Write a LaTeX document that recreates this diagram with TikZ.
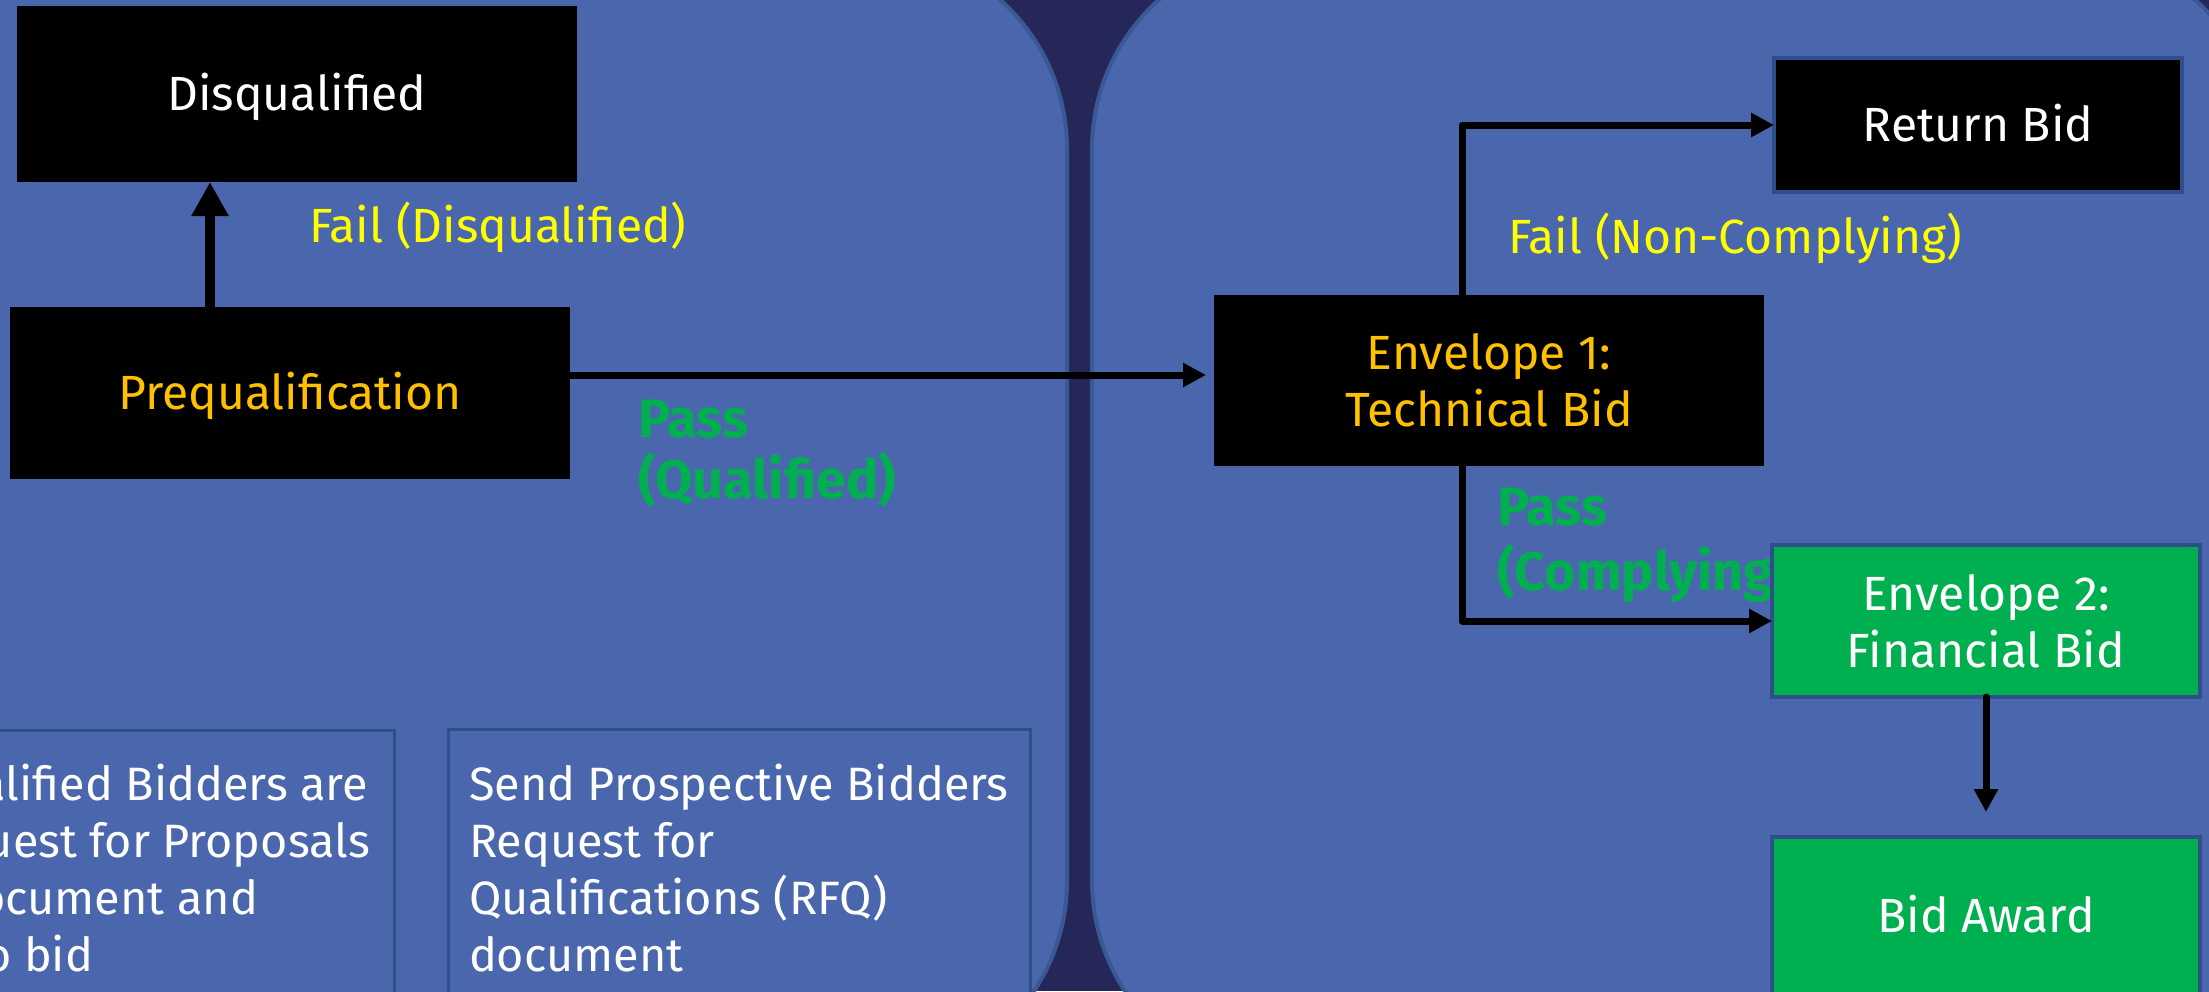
\documentclass[tikz,border=0pt]{standalone}
\usepackage{fontspec}
\setmainfont{Fira Sans}
\usetikzlibrary{arrows.meta,calc}
\definecolor{panel}{HTML}{4A67AE}
\definecolor{darkbg}{HTML}{252758}
\definecolor{panelline}{HTML}{3A5896}
\definecolor{boxline}{HTML}{2F4F8A}
\definecolor{okgreen}{HTML}{00B050}
\definecolor{gold}{HTML}{FFC000}
\definecolor{failyellow}{HTML}{FFFF00}
\tikzset{
  every node/.style={inner sep=0pt, outer sep=0pt},
  txt/.style={font=\fontsize{24}{28.5}\selectfont},
  oneline/.style={text height=16.5pt, text depth=0pt},
  blackbox/.style={fill=black, txt, align=center},
  framedbox/.style={draw=boxline, line width=2pt},
  greenbox/.style={fill=okgreen, framedbox, txt, align=center, text=white},
  textframe/.style={draw=boxline, line width=1.5pt},
  panelshape/.style={draw=panelline, line width=2pt, fill=panel, rounded corners=100pt},
  arr/.style={draw=black, line width=3.5pt, line cap=round, line join=round,
    -{Triangle[length=11.5pt,width=11.5pt]}},
  bigarr/.style={draw=black, line width=5pt,
    -{Triangle[length=17pt,width=17.5pt]}},
  faillabel/.style={txt, text=failyellow, anchor=base west},
  passlabel/.style={text=okgreen, font=\fontsize{27}{30}\selectfont\bfseries, anchor=base west},
  bodyline/.style={font=\fontsize{23.4}{28.5}\selectfont, text=white, anchor=base west},
}
\begin{document}
\begin{tikzpicture}[x=0.5pt,y=-0.5pt]
\useasboundingbox (0,0) rectangle (2209,991);
\clip (0,0) rectangle (2209,991);
% background and panels
\fill[darkbg] (0,0) rectangle (2209,991);
\draw[panelshape] (-150,-51) rectangle (1067,1081);
\draw[panelshape] (1092,-51) rectangle (2262,1081);

% bottom text boxes
\node[textframe, minimum width=289.5pt, minimum height=140pt] (rfpbox) at (104.5,870) {};
\node[textframe, minimum width=291pt, minimum height=140.5pt] (rfqbox) at (739,869.5) {};

\node[bodyline, anchor=base east] (p1) at (368,800) {The Qualified Bidders are};
\node[bodyline, anchor=base east] (p2) at (370,857) {sent Request for Proposals};
\node[bodyline, anchor=base east] (p3) at (258,914) {(RFP) document and};
\node[bodyline, anchor=base east] (p4) at (93,971) {invited to bid};

\node[bodyline] (q1) at (469,800) {Send Prospective Bidders};
\node[bodyline] (q2) at (469,857) {Request for};
\node[bodyline] (q3) at (469,914) {Qualifications (RFQ)};
\node[bodyline] (q4) at (469,971) {document};

% labels
\node[faillabel] (lf1) at (309,242) {Fail (Disqualified)};
\node[faillabel] (lf2) at (1508,253) {Fail (Non-Complying)};
\node[passlabel] (lp1a) at (638,437) {Pass};
\node[passlabel] (lp1b) at (638,498) {(Qualified)};
\node[passlabel] (lp2a) at (1497,525) {Pass};
\node[passlabel] (lp2b) at (1497,590) {(Complying)};

% boxes
\node[blackbox, oneline, text=white, minimum width=280pt, minimum height=88pt] (dis) at (297,94) {Disqualified};
\node[blackbox, oneline, text=gold, minimum width=280pt, minimum height=86pt] (pre) at (290,393) {Prequalification};
\node[blackbox, framedbox, oneline, text=white, minimum width=204pt, minimum height=67pt] (ret) at (1978,125) {Return Bid};
\node[blackbox, text=gold, minimum width=275pt, minimum height=85.5pt] (env1) at (1489,380.5) {Envelope 1:\\Technical Bid};
\node[greenbox, minimum width=214pt, minimum height=76pt] (env2) at (1986,621) {Envelope 2:\\Financial Bid};
\node[greenbox, oneline, minimum width=214pt, minimum height=79pt] (award) at (1986,916) {Bid Award};

% connectors
\coordinate (yl) at (0,375);
\coordinate (fx) at (1462,0);
\coordinate (dx) at (210,0);
\draw[bigarr] (pre.north -| dx) -- (dis.south -| dx);
\draw[arr, shorten >=4pt] (pre.east |- yl) -- (env1.west |- yl);
\draw[arr] (env1.north -| fx) |- (ret.west);
\draw[arr] (env1.south -| fx) |- (env2.west);
\draw[arr, shorten >=12.5pt] (env2.south) -- (award.north);
\end{tikzpicture}
\end{document}
